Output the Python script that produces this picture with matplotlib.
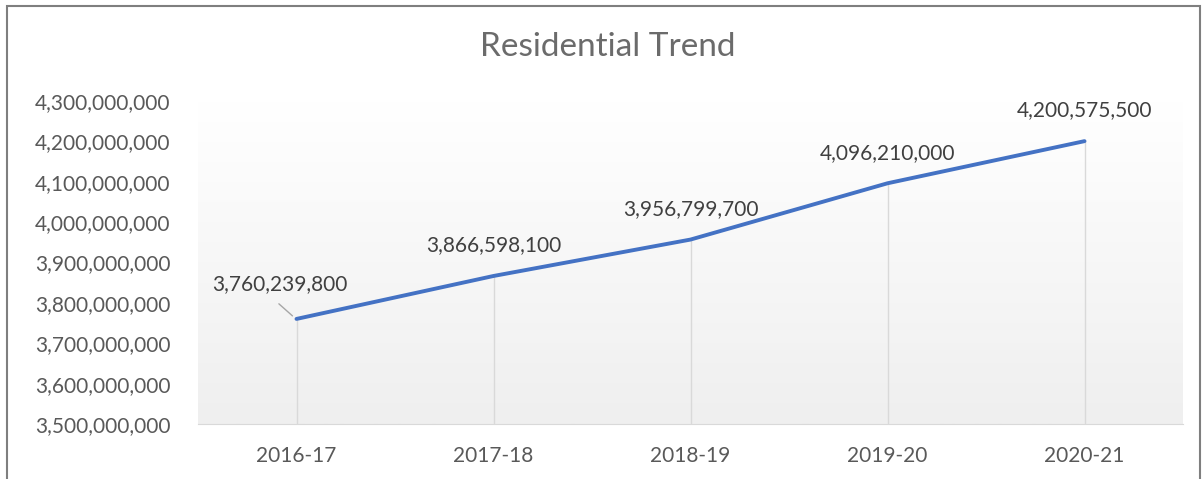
import numpy as np
import matplotlib.pyplot as plt
from matplotlib.ticker import FuncFormatter

years = ['2016-17', '2017-18', '2018-19', '2019-20', '2020-21']
values = [3760239800, 3866598100, 3956799700, 4096210000, 4200575500]

plt.rcParams['font.family'] = ['Lato', 'DejaVu Sans']
fig = plt.figure(figsize=(12.02, 4.79), dpi=100)
ax = fig.add_axes([198/1202, 1-424/479, 985/1202, 323/479])

x = np.arange(len(years))
ax.set_xlim(-0.5, len(years) - 0.5)
ax.set_ylim(3.5e9, 4.3e9)

# gradient background
grad = np.linspace(1.0, 0.0, 256).reshape(-1, 1)
ax.imshow(grad, extent=[0, 1, 0, 1], transform=ax.transAxes, aspect='auto',
          cmap=plt.matplotlib.colors.LinearSegmentedColormap.from_list('g', ['#efefef', '#ffffff']),
          zorder=0)

# drop lines
for xi, v in zip(x, values):
    ax.plot([xi, xi], [3.5e9, v], color='#d9d9d9', lw=1, zorder=1)

ax.plot(x, values, color='#4472C4', lw=2.8, solid_capstyle='round', zorder=3)

fs = 15
for i, (xi, v) in enumerate(zip(x, values)):
    lbl = f'{v:,}'
    if i == 0:
        ax.annotate(lbl, xy=(xi, v), xytext=(-12, 25), textcoords='offset points',
                    ha='center', va='center', fontsize=fs, color='#404040')
        ax.annotate('', xy=(xi - 0.01, v + 3e6), xytext=(xi - 0.1, v + 4.2e7),
                    arrowprops=dict(arrowstyle='-', color='#a6a6a6', lw=1))
    else:
        ax.annotate(lbl, xy=(xi, v), xytext=(0, 22), textcoords='offset points',
                    ha='center', va='center', fontsize=fs, color='#404040')

ax.set_xticks(x)
ax.set_xticklabels(years)
ax.set_yticks(np.arange(3.5e9, 4.31e9, 1e8))
ax.yaxis.set_major_formatter(FuncFormatter(lambda v, p: f'{int(round(v)):,}'))
ax.tick_params(axis='both', length=0, labelsize=fs, colors='#595959')
ax.tick_params(axis='x', pad=16)
ax.tick_params(axis='y', pad=20)
for s in ['top', 'right', 'left']:
    ax.spines[s].set_visible(False)
ax.spines['bottom'].set_color('#d9d9d9')

fig.text(608/1202, 1-47/479, 'Residential Trend', ha='center', va='center',
         fontsize=24, color='#6b6b6b')

# chart border
fig.add_artist(plt.Rectangle((7/1202, -0.05), 1193/1202, 1.05 - 6/479, transform=fig.transFigure,
                             fill=False, edgecolor='#7f7f7f', lw=1.5))

fig.savefig('out.png', dpi=100)
